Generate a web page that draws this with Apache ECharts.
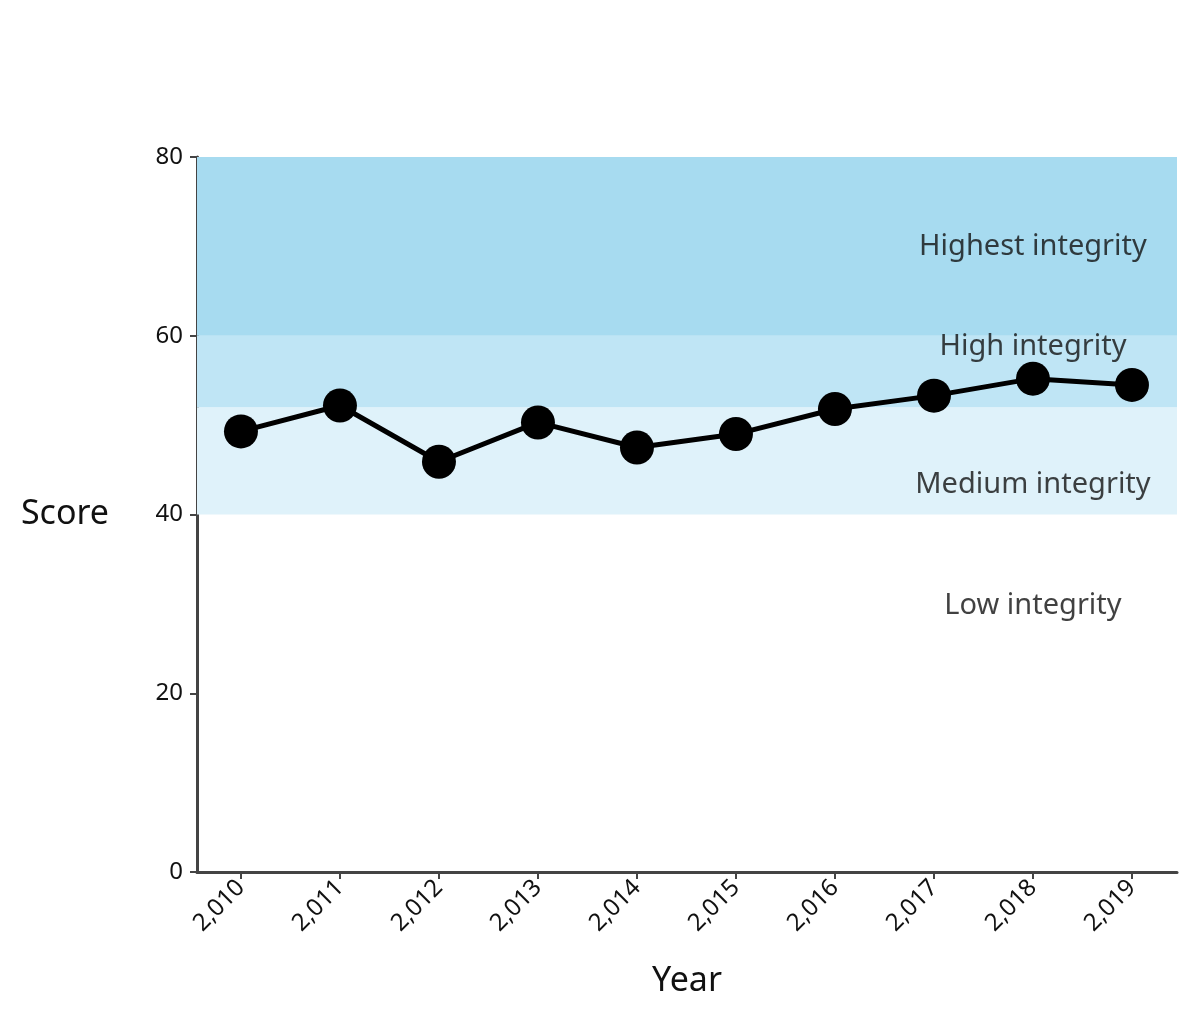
<!DOCTYPE html>
<html>
<head>
<meta charset="utf-8">
<script src="https://cdn.jsdelivr.net/npm/echarts@6/dist/echarts.min.js"></script>
<style>html,body{margin:0;padding:0;background:#fff}#chart{width:1200px;height:1020px}</style>
</head>
<body>
<div id="chart"></div>
<script>
const years = [2010, 2011, 2012, 2013, 2014, 2015, 2016, 2017, 2018, 2019];
const scores = [49.3, 52.2, 45.9, 50.3, 47.5, 49.0, 51.8, 53.3, 55.2, 54.5];
const bands = [
	{ from: 40, to: 52, color: '#dff2fa' },
	{ from: 52, to: 60, color: '#bfe5f5' },
	{ from: 60, to: 80, color: '#a7dbf0' }
];
const bandLabels = [
	['Highest integrity', 70],
	['High integrity', 58.8],
	['Medium integrity', 43.3],
	['Low integrity', 29.8]
];
const yTicks = [0, 20, 40, 60, 80];

const font = '"Noto Sans", "Open Sans", sans-serif';
const chart = echarts.init(document.getElementById('chart'));
chart.setOption({
	animation: false,
	grid: { left: 197, right: 23, top: 157, bottom: 148 },
	xAxis: {
		type: 'value',
		min: 2009.556,
		max: 2019.455,
		name: 'Year',
		nameLocation: 'middle',
		nameGap: 92,
		nameTextStyle: { fontSize: 34, color: '#111', fontFamily: font },
		axisLine: { lineStyle: { color: '#444', width: 3 } },
		axisTick: { show: true, customValues: years, length: 7, lineStyle: { color: '#444', width: 2 } },
		axisLabel: { customValues: years, rotate: 45, fontSize: 24, color: '#111', fontFamily: font, margin: 12 },
		splitLine: { show: false }
	},
	yAxis: {
		type: 'value',
		min: 0,
		max: 80,
		interval: 20,
		name: 'Score',
		nameLocation: 'middle',
		nameRotate: 0,
		nameGap: 88,
		nameTextStyle: { fontSize: 34, color: '#111', fontFamily: font },
		axisLine: { show: true, lineStyle: { color: '#444', width: 3 } },
		axisTick: { show: true, length: 7, lineStyle: { color: '#444', width: 2 } },
		axisLabel: { fontSize: 24, color: '#111', fontFamily: font, margin: 14 },
		splitLine: { show: false }
	},
	series: [
		{
			type: 'line',
			data: years.map((y, i) => [y, scores[i]]),
			symbol: 'circle',
			symbolSize: 34,
			z: 5,
			itemStyle: { color: '#000' },
			lineStyle: { color: '#000', width: 5 },
			markArea: {
				silent: true,
				data: bands.map(b => [
					{ yAxis: b.from, itemStyle: { color: b.color } },
					{ yAxis: b.to }
				])
			}
		},
		{
			type: 'scatter',
			symbolSize: 0,
			z: 6,
			data: bandLabels.map(d => ({ value: [2018, d[1]], name: d[0] })),
			label: {
				show: true,
				position: 'inside',
				formatter: p => p.name,
				fontSize: 29,
				color: '#111',
				fontFamily: font
			}
		}
	]
});
</script>
</body>
</html>
